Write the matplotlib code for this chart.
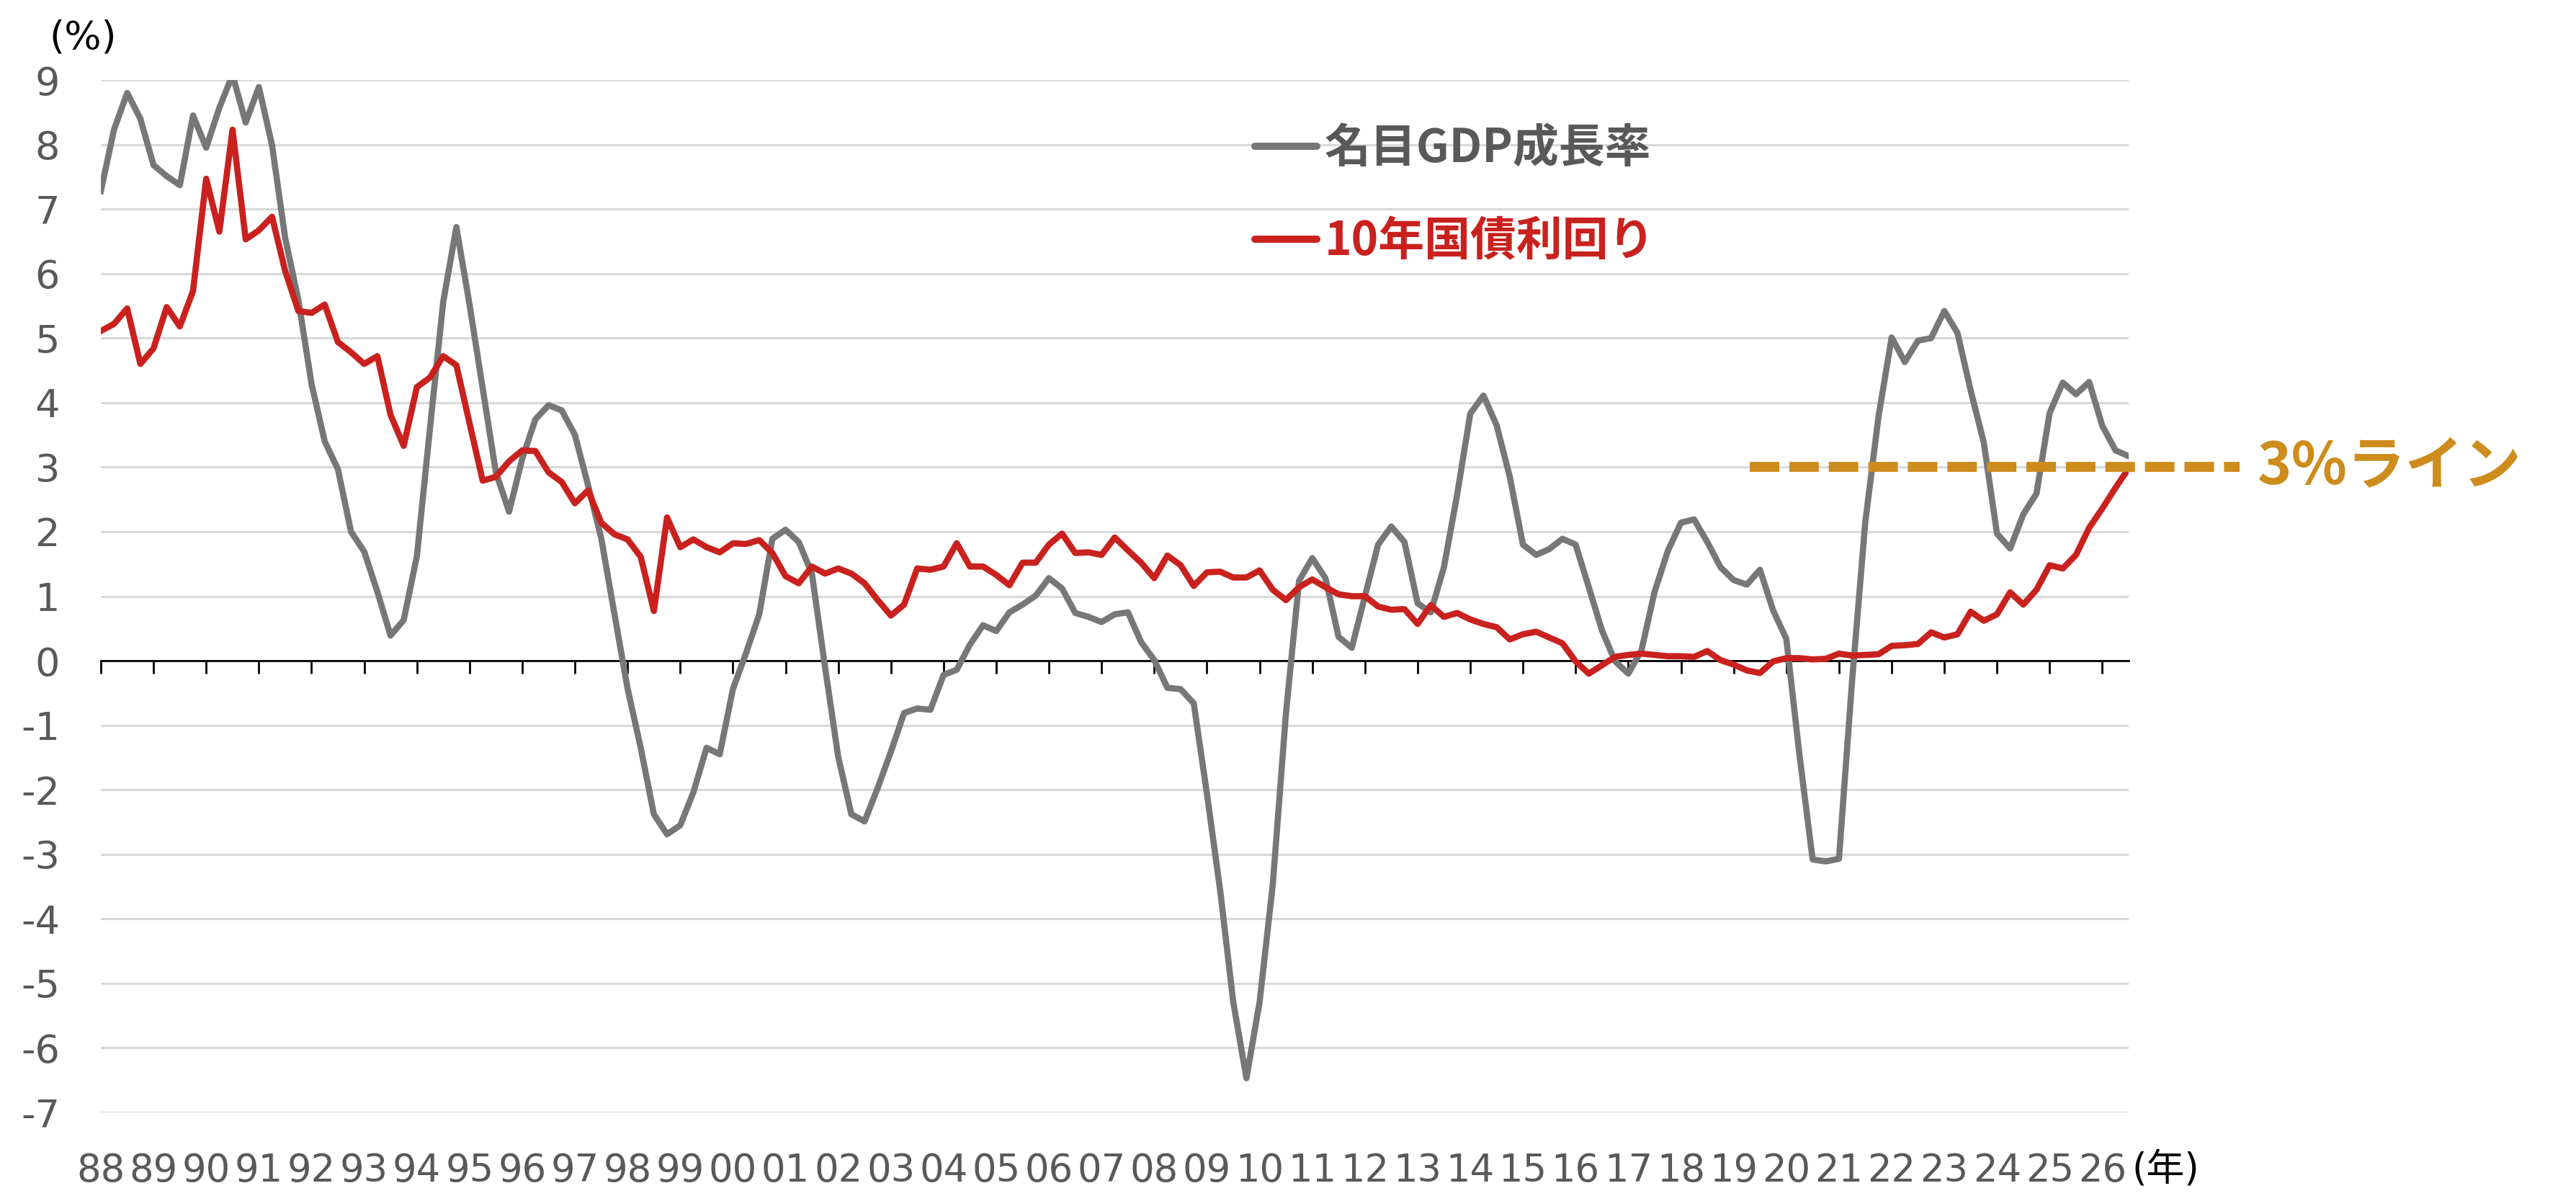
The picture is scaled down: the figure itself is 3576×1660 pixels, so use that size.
import numpy as np
import matplotlib
matplotlib.use("Agg")
import matplotlib.pyplot as plt
from matplotlib.lines import Line2D

plt.rcParams["font.family"] = ["Noto Sans CJK JP", "DejaVu Sans"]
plt.rcParams["axes.unicode_minus"] = False
NUM_FONT = ["DejaVu Sans", "Noto Sans CJK JP"]

# 四半期データ 1988Q1〜2026Q3 (%)
year_labels = ["88", "89", "90", "91", "92", "93", "94", "95", "96", "97",
               "98", "99", "00", "01", "02", "03", "04", "05", "06", "07",
               "08", "09", "10", "11", "12", "13", "14", "15", "16", "17",
               "18", "19", "20", "21", "22", "23", "24", "25", "26"]

nominal_gdp = [
    7.28, 8.23, 8.80, 8.40, 7.68, 7.51, 7.37, 8.45, 7.95, 8.57,
    9.08, 8.34, 8.89, 7.99, 6.55, 5.59, 4.29, 3.40, 2.97, 2.00,
    1.69, 1.07, 0.39, 0.63, 1.62, 3.61, 5.56, 6.72, 5.52, 4.22,
    2.92, 2.31, 3.13, 3.74, 3.96, 3.88, 3.50, 2.72, 1.90, 0.73,
    -0.43, -1.35, -2.38, -2.69, -2.55, -2.04, -1.35, -1.45,
    -0.44, 0.12, 0.72, 1.89, 2.03, 1.84, 1.35, -0.10, -1.49, -2.38,
    -2.49, -1.97, -1.41, -0.81, -0.74, -0.76, -0.22, -0.14, 0.25, 0.55,
    0.46, 0.75, 0.87, 1.01, 1.28, 1.12, 0.74, 0.68, 0.60, 0.72,
    0.75, 0.29, 0.01, -0.42, -0.44, -0.66, -2.06, -3.55, -5.29, -6.47,
    -5.29, -3.47, -0.82, 1.24, 1.59, 1.28, 0.37, 0.20, 1.00, 1.80,
    2.08, 1.84, 0.89, 0.75, 1.45, 2.57, 3.83, 4.11, 3.65, 2.85,
    1.80, 1.64, 1.73, 1.89, 1.80, 1.14, 0.47, -0.01, -0.20, 0.16,
    1.07, 1.70, 2.14, 2.19, 1.84, 1.45, 1.25, 1.18, 1.41, 0.78,
    0.34, -1.46, -3.08, -3.11, -3.07, -0.30, 2.15, 3.78, 5.01, 4.63,
    4.96, 5.00, 5.42, 5.08, 4.19, 3.38, 1.97, 1.74, 2.27, 2.59,
    3.84, 4.31, 4.13, 4.32, 3.64, 3.26, 3.17,
]

jgb_10y = [
    5.11, 5.22, 5.46, 4.60, 4.84, 5.48, 5.18, 5.73, 7.47, 6.65,
    8.23, 6.53, 6.67, 6.88, 6.04, 5.42, 5.39, 5.52, 4.94, 4.78,
    4.60, 4.72, 3.81, 3.33, 4.24, 4.39, 4.72, 4.58, 3.68, 2.79,
    2.85, 3.09, 3.26, 3.25, 2.92, 2.77, 2.44, 2.64, 2.14, 1.96,
    1.88, 1.61, 0.77, 2.22, 1.76, 1.88, 1.76, 1.68,
    1.82, 1.81, 1.87, 1.67, 1.31, 1.20, 1.46, 1.35, 1.43, 1.35,
    1.20, 0.94, 0.70, 0.87, 1.43, 1.41, 1.46, 1.82, 1.46, 1.46,
    1.33, 1.17, 1.52, 1.52, 1.80, 1.97, 1.67, 1.68, 1.64, 1.91,
    1.71, 1.52, 1.28, 1.63, 1.48, 1.16, 1.37, 1.38, 1.29, 1.29,
    1.40, 1.10, 0.94, 1.14, 1.26, 1.14, 1.03, 1.00, 1.00, 0.84,
    0.79, 0.80, 0.57, 0.86, 0.68, 0.74, 0.64, 0.57, 0.52, 0.33,
    0.41, 0.45, 0.36, 0.27, -0.01, -0.20, -0.07, 0.06, 0.09, 0.11,
    0.09, 0.07, 0.07, 0.06, 0.15, 0.01, -0.06, -0.15, -0.19, -0.01,
    0.04, 0.04, 0.02, 0.03, 0.11, 0.08, 0.09, 0.10, 0.23, 0.24,
    0.26, 0.44, 0.36, 0.41, 0.76, 0.62, 0.72, 1.06, 0.87, 1.10,
    1.48, 1.43, 1.64, 2.06, 2.36, 2.68, 2.98,
]

# 3%ライン (x はデータの四半期インデックス)
line_level = 3
line_start = 125.2
line_end = 162.4

GRAY = "#777777"
RED = "#C9211E"
GOLD = "#CD8C1B"
TEXT_GRAY = "#595959"

fig = plt.figure(figsize=(17.88, 8.30), dpi=200)
ax = fig.add_axes([0.03915, 0.06988, 0.78719, 0.86325])

x = np.arange(len(nominal_gdp))
ax.plot(x, nominal_gdp, color=GRAY, lw=3.1, solid_joinstyle="round", zorder=3)
ax.plot(x, jgb_10y, color=RED, lw=3.1, solid_joinstyle="round", zorder=3)
ax.hlines(line_level, line_start, line_end, colors=GOLD, lw=5,
          linestyles=(0, (2.95, 1.0)), clip_on=False, zorder=4)

ax.set_xlim(0, len(x) - 1)
ax.set_ylim(-7, 9)
ax.set_yticks(range(-7, 10))
ax.set_xticks(np.arange(0, len(x), 4))

for side in ["top", "right", "left"]:
    ax.spines[side].set_visible(False)
ax.spines["bottom"].set_position(("data", 0))
ax.spines["bottom"].set_linewidth(1.0)
ax.spines["bottom"].set_color("black")

ax.tick_params(axis="x", direction="out", length=6.5, width=1.0,
               color="black", labelbottom=False)
ax.tick_params(axis="y", length=0, pad=20.5, labelsize=19.5,
               labelcolor=TEXT_GRAY)
for t in ax.get_yticklabels():
    t.set_family(NUM_FONT)
ax.grid(axis="y", color="#D9D9D9", lw=1.1)
ax.set_axisbelow(True)

# 年ラベルはグラフの下端に
label_y = -0.0668
for k, lab in enumerate(year_labels):
    ax.text(4 * k, label_y, lab, transform=ax.get_xaxis_transform(),
            ha="center", va="baseline", fontsize=19, color=TEXT_GRAY,
            family=NUM_FONT)
ax.annotate("(年)", xy=(1, label_y), xycoords="axes fraction",
            xytext=(1.8, 0), textcoords="offset points",
            ha="left", va="baseline", fontsize=19, color="black",
            family=NUM_FONT)

fig.text(115 / 3576, 1 - 52 / 1660, "(%)", ha="center", va="center",
         fontsize=19.5, color="black", family=NUM_FONT)

ax.annotate("3%ライン", xy=(line_end, line_level), xycoords="data",
            xytext=(9, 0), textcoords="offset points", ha="left",
            va="center", fontsize=29, fontweight="bold", color=GOLD,
            annotation_clip=False)

handles = [
    Line2D([], [], color=GRAY, lw=3.6, solid_capstyle="round"),
    Line2D([], [], color=RED, lw=3.6, solid_capstyle="round"),
]
leg = fig.legend(handles, ["名目GDP成長率", "10年国債利回り"],
                 loc="center left", bbox_to_anchor=(0.4871, 0.8367),
                 frameon=False, prop={"weight": "bold", "size": 23},
                 handlelength=1.35, handletextpad=0.17, labelspacing=1.0,
                 borderpad=0, borderaxespad=0)
for t, c in zip(leg.get_texts(), [TEXT_GRAY, RED]):
    t.set_color(c)

fig.savefig("out.png", dpi=200)
